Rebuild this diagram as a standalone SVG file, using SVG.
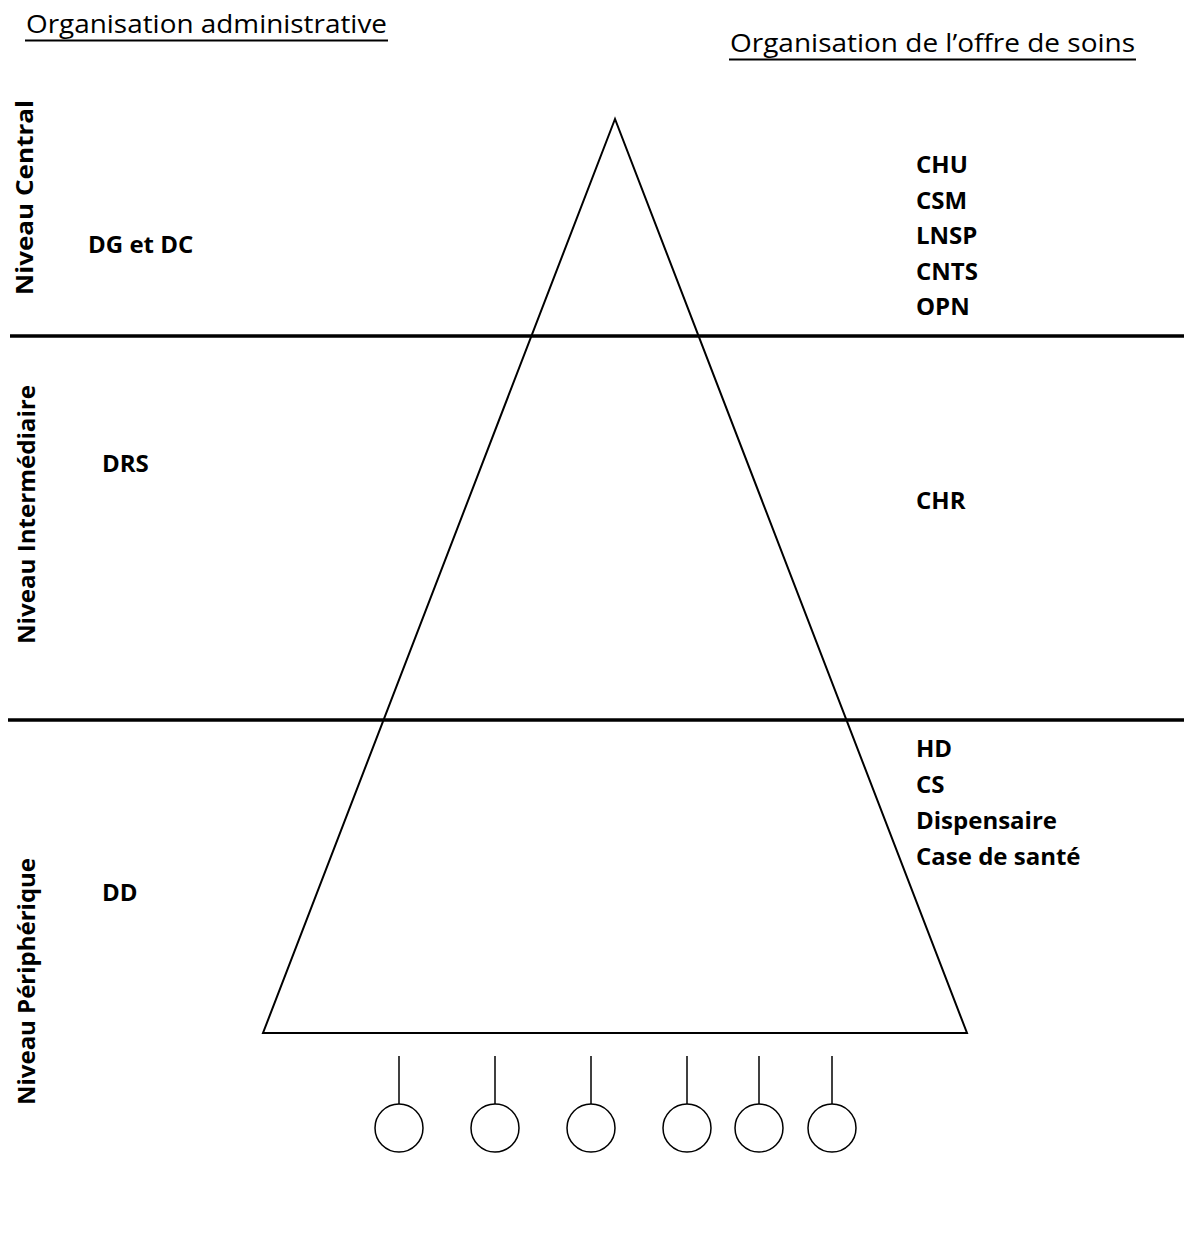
<svg xmlns="http://www.w3.org/2000/svg" width="1184" height="1240" viewBox="0 0 1184 1240">
<style>
text{font-family:"Open Sans","Liberation Sans",sans-serif;fill:#000}
.h{font-size:26px}
.b{font-size:24px;font-weight:bold}
.ul{stroke:#000;stroke-width:2}
.sep{stroke:#000;stroke-width:3.5}
.tri{fill:none;stroke:#000;stroke-width:2}
.stem{stroke:#000;stroke-width:1.5}
.c{fill:#fff;stroke:#000;stroke-width:1.5}
</style>
<rect width="1184" height="1240" fill="#fff"/>
<g id="headers">
<text class="h" x="26" y="33" textLength="361" lengthAdjust="spacingAndGlyphs">Organisation administrative</text>
<line class="ul" x1="25" y1="40.5" x2="388" y2="40.5"/>
<text class="h" x="730" y="52" textLength="405" lengthAdjust="spacingAndGlyphs">Organisation de l’offre de soins</text>
<line class="ul" x1="729" y1="59.5" x2="1136" y2="59.5"/>
</g>
<g id="separators">
<line class="sep" x1="10" y1="336" x2="1184" y2="336"/>
<line class="sep" x1="8" y1="720" x2="1184" y2="720"/>
</g>
<g id="pyramid">
<polygon class="tri" points="615,119 263,1033 967,1033"/>
</g>
<g id="connectors">
<line class="stem" x1="399" y1="1056" x2="399" y2="1104"/>
<line class="stem" x1="495" y1="1056" x2="495" y2="1104"/>
<line class="stem" x1="591" y1="1056" x2="591" y2="1104"/>
<line class="stem" x1="687" y1="1056" x2="687" y2="1104"/>
<line class="stem" x1="759" y1="1056" x2="759" y2="1104"/>
<line class="stem" x1="832" y1="1056" x2="832" y2="1104"/>
</g>
<g id="circles">
<circle class="c" cx="399" cy="1128" r="24"/>
<circle class="c" cx="495" cy="1128" r="24"/>
<circle class="c" cx="591" cy="1128" r="24"/>
<circle class="c" cx="687" cy="1128" r="24"/>
<circle class="c" cx="759" cy="1128" r="24"/>
<circle class="c" cx="832" cy="1128" r="24"/>
</g>
<g id="level-labels">
<text class="b" transform="translate(33,295) rotate(-90)" textLength="195" lengthAdjust="spacingAndGlyphs">Niveau Central</text>
<text class="b" transform="translate(35,644) rotate(-90)" textLength="259" lengthAdjust="spacingAndGlyphs">Niveau Intermédiaire</text>
<text class="b" transform="translate(35,1105) rotate(-90)" textLength="247" lengthAdjust="spacingAndGlyphs">Niveau Périphérique</text>
</g>
<g id="admin">
<text class="b" x="88" y="253">DG et DC</text>
<text class="b" x="102" y="472">DRS</text>
<text class="b" x="102" y="901">DD</text>
</g>
<g id="central-offer">
<text class="b" x="916" y="173">CHU</text>
<text class="b" x="916" y="208.5">CSM</text>
<text class="b" x="916" y="244">LNSP</text>
<text class="b" x="916" y="279.5">CNTS</text>
<text class="b" x="916" y="315">OPN</text>
</g>
<g id="intermediate-offer">
<text class="b" x="916" y="509">CHR</text>
</g>
<g id="peripheral-offer">
<text class="b" x="916" y="757">HD</text>
<text class="b" x="916" y="793">CS</text>
<text class="b" x="916" y="829">Dispensaire</text>
<text class="b" x="916" y="865">Case de santé</text>
</g>
</svg>
